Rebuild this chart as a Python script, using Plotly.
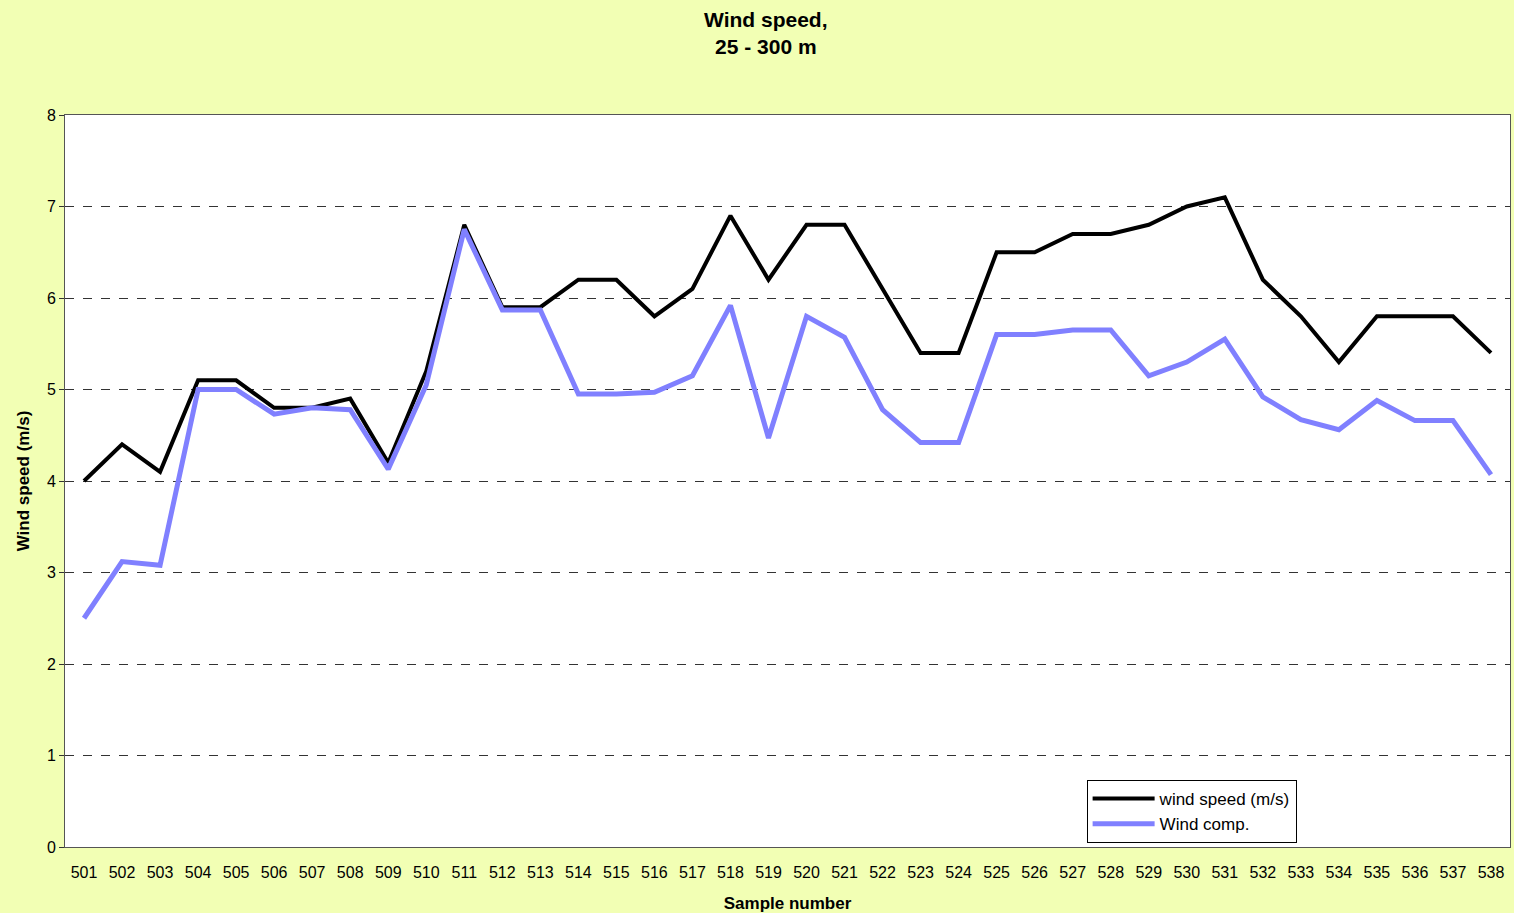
import plotly.graph_objects as go

samples = [str(s) for s in range(501, 539)]
wind_speed = [4.0, 4.4, 4.1, 5.1, 5.1, 4.8, 4.8, 4.9, 4.2, 5.2,
              6.8, 5.9, 5.9, 6.2, 6.2, 5.8, 6.1, 6.9, 6.2, 6.8,
              6.8, 6.1, 5.4, 5.4, 6.5, 6.5, 6.7, 6.7, 6.8, 7.0,
              7.1, 6.2, 5.8, 5.3, 5.8, 5.8, 5.8, 5.4]
wind_comp = [2.5, 3.12, 3.08, 5.0, 5.0, 4.73, 4.8, 4.78, 4.13, 5.05,
             6.75, 5.87, 5.87, 4.95, 4.95, 4.97, 5.15, 5.92, 4.47, 5.8,
             5.57, 4.78, 4.42, 4.42, 5.6, 5.6, 5.65, 5.65, 5.15, 5.3,
             5.55, 4.92, 4.67, 4.56, 4.88, 4.66, 4.66, 4.07]
y_ticks = [0, 1, 2, 3, 4, 5, 6, 7, 8]
title_lines = ["Wind speed,", "25 - 300 m"]

font = "Liberation Sans, Arial, sans-serif"
fig = go.Figure()
fig.add_trace(go.Scatter(x=samples, y=wind_speed, mode="lines", name="wind speed (m/s)",
                         line=dict(color="black", width=4)))
fig.add_trace(go.Scatter(x=samples, y=wind_comp, mode="lines", name="Wind comp.",
                         line=dict(color="#8080FF", width=5)))

for i, t in enumerate(title_lines):
    fig.add_annotation(text="<b>%s</b>" % t, xref="paper", yref="paper",
                       x=0.485, y=(847 - (19 + 28 * i)) / 732, xanchor="center", yanchor="middle",
                       showarrow=False, font=dict(size=21, family=font, color="black"))

fig.update_layout(
    width=1514, height=913,
    paper_bgcolor="#F2FFB4", plot_bgcolor="white",
    margin=dict(l=65, r=4, t=115, b=66),
    font=dict(family=font, size=16, color="black"),
    xaxis=dict(type="category", range=[-0.5, len(samples) - 0.5], showgrid=False,
               showline=True, linecolor="#555", automargin=False,
               mirror=True, ticks="outside", ticklen=11, tickcolor="rgba(0,0,0,0)",
               tickfont=dict(size=16),
               title=dict(text="<b>Sample number</b>", font=dict(size=17), standoff=16)),
    yaxis=dict(range=[0, 8], tickvals=y_ticks, showgrid=True, gridcolor="#333",
               griddash="dash", gridwidth=1, showline=True, linecolor="#555",
               mirror=True, ticks="outside", ticklen=5, tickcolor="#333",
               tickfont=dict(size=16), zeroline=False, automargin=False,
               title=dict(text="<b>Wind speed (m/s)</b>", font=dict(size=17), standoff=12)),
    legend=dict(x=0.707, y=0.0915, xanchor="left", yanchor="top",
                bgcolor="white", bordercolor="black", borderwidth=1,
                font=dict(size=17), tracegroupgap=0, itemwidth=62),
    showlegend=True,
)
fig.write_html("out.html", config={"displayModeBar": False},
               post_script="document.body.style.margin='0';document.body.style.overflow='hidden';")
